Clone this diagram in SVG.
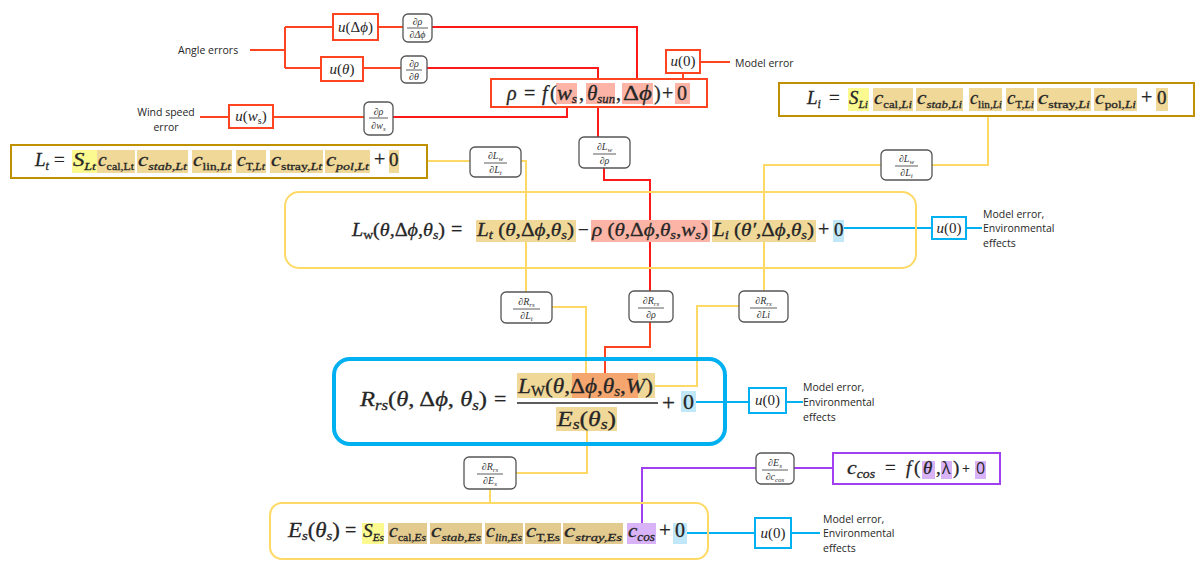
<svg xmlns="http://www.w3.org/2000/svg" width="1197" height="561" viewBox="0 0 1197 561">
<style>
.mi{font-family:"Liberation Serif","DejaVu Serif",serif;font-style:italic;fill:#262626;stroke:#262626;stroke-width:0.3}
.mn{font-family:"Liberation Serif","DejaVu Serif",serif;font-style:normal;fill:#262626;stroke:#262626;stroke-width:0.3}
.lbl{font-family:"Open Sans","Liberation Sans",sans-serif;font-size:10.5px;fill:#262626}
.pd{font-family:"Liberation Serif","DejaVu Serif",serif;font-style:italic;font-size:10px;fill:#333;text-anchor:middle}
.pdb{fill:#fff;stroke:#555;stroke-width:1.3}
.pdl{stroke:#333;stroke-width:0.8}
.ob{fill:#fff;stroke:#FF4422;stroke-width:2}
.bb{fill:#fff;stroke:#00B0F0;stroke-width:2}
.gb{fill:#fff;stroke:#BF9000;stroke-width:2}
.lo{fill:none;stroke:#FF4422;stroke-width:2}
.lr{fill:none;stroke:#FF1A1A;stroke-width:2}
.ly{fill:none;stroke:#FFD966;stroke-width:2}
.lb{fill:none;stroke:#00B0F0;stroke-width:2}
.lp{fill:none;stroke:#A040F0;stroke-width:2}
.hs{fill:#FBB4A5}
.ht{fill:#F0D898}
.hd{fill:#E3CB90}
.hy{fill:#FAFA90}
.hb{fill:#C0E8F8}
.hp{fill:#D9B3F8}
.ho{fill:#F5A66E}
.u{font-family:"Liberation Serif","DejaVu Serif",serif;font-size:15px;fill:#262626;text-anchor:middle}
</style>

<g id="connectors">
  <path class="lo" d="M250,50 H285 M285,27 V68 M285,27 H333 M285,68 H321"/>
  <path class="lo" d="M378,27 H403 M363,68 H401"/>
  <path class="lr" d="M432,27 H637 V80 M427,68 H598 V79"/>
  <path class="lo" d="M200,117 H229 M273,117 H364"/>
  <path class="lr" d="M393,117 H567 V104"/>
  <path class="lo" d="M700,62 H730 M683,73 V83"/>
  <path class="lr" d="M598,107 V137 M604,168 V180 H650 V291"/>
  <path class="lo" d="M650,322 V347 H605 V373"/>
  <path class="ly" d="M427,161 H470 M521,161 H526 V292 M552,307 H586 V373"/>
  <path class="ly" d="M988,116 V165 H932 M881,165 H764 V291 M739,306 H697 V386 H655"/>
  <path class="ly" d="M587,431 V473 H516 M490,489 V503"/>
  <path class="lb" d="M844,228 H932 M966,228 H982"/>
  <path class="lb" d="M696,402 H749 M786,402 H803"/>
  <path class="lb" d="M687,533 H755 M791,533 H820"/>
  <path class="lp" d="M642,523 V468 H756 M794,468 H833"/>
</g>

<g id="angle-errors"><text class="lbl" x="178" y="54">Angle errors</text></g>
<g id="wind-speed-error"><text class="lbl" x="166" y="116" text-anchor="middle">Wind speed</text><text class="lbl" x="166" y="131" text-anchor="middle">error</text></g>

<g id="u-dphi"><rect class="ob" x="333" y="14" width="45" height="26"/><text class="u" x="355.5" y="32"><tspan font-style="italic">u</tspan>(Δ<tspan font-style="italic">ϕ</tspan>)</text></g>
<g id="u-theta"><rect class="ob" x="321" y="57" width="42" height="24"/><text class="u" x="342" y="74"><tspan font-style="italic">u</tspan>(<tspan font-style="italic">θ</tspan>)</text></g>
<g id="u-ws"><rect class="ob" x="229" y="105" width="44" height="23"/><text class="u" x="251" y="121"><tspan font-style="italic">u</tspan>(<tspan font-style="italic">w</tspan><tspan font-size="10" dy="3">s</tspan><tspan dy="-3">)</tspan></text></g>
<g id="u0-rho"><rect class="ob" x="666" y="50" width="34" height="23"/><text class="u" x="683" y="66"><tspan font-style="italic">u</tspan>(0)</text></g>
<g id="model-error-rho"><text class="lbl" x="735" y="67">Model error</text></g>

<g id="d-rho-dphi"><rect class="pdb" x="403" y="14" width="29" height="28" rx="5"/><text class="pd" x="417.5" y="25">∂ρ</text><line class="pdl" x1="407" y1="28" x2="428" y2="28"/><text class="pd" x="417.5" y="38">∂Δϕ</text></g>
<g id="d-rho-theta"><rect class="pdb" x="401" y="56" width="26" height="27" rx="5"/><text class="pd" x="414" y="67">∂ρ</text><line class="pdl" x1="406" y1="70" x2="422" y2="70"/><text class="pd" x="414" y="80">∂θ</text></g>
<g id="d-rho-ws"><rect class="pdb" x="364" y="102" width="29" height="33" rx="5"/><text class="pd" x="378.5" y="115">∂ρ</text><line class="pdl" x1="369" y1="118" x2="388" y2="118"/><text class="pd" x="378.5" y="129">∂w<tspan font-size="7" dy="2">s</tspan></text></g>

<g id="rho-eq">
  <rect class="ob" x="491" y="79" width="216" height="28" fill="none"/>
  <rect class="hs" x="556" y="83" width="21" height="21"/>
  <rect class="hs" x="586" y="83" width="29" height="21"/>
  <rect class="hs" x="622" y="83" width="31" height="21"/>
  <rect class="hs" x="675" y="83" width="15" height="21"/>
  <text class="mi" x="507" y="100" font-size="20">ρ</text>
  <text class="mn" x="524" y="100" font-size="20">=</text>
  <text class="mi" x="542" y="100" font-size="20">f</text>
  <text class="mn" x="550" y="100" font-size="20">(</text>
  <text class="mi" x="557" y="100" font-size="20" textLength="20" lengthAdjust="spacingAndGlyphs">w<tspan font-size="12" dy="3">s</tspan></text>
  <text class="mn" x="579" y="100" font-size="20">,</text>
  <text class="mi" x="587" y="100" font-size="20" textLength="28" lengthAdjust="spacingAndGlyphs">θ<tspan font-size="12" dy="3">sun</tspan></text>
  <text class="mn" x="616" y="100" font-size="20">,</text>
  <text class="mi" x="623" y="100" font-size="20" textLength="29" lengthAdjust="spacingAndGlyphs"><tspan class="mn">Δ</tspan>ϕ</text>
  <text class="mn" x="654" y="100" font-size="20">)</text>
  <text class="mn" x="662" y="100" font-size="20">+</text>
  <text class="mn" x="677" y="100" font-size="20">0</text>
</g>

<g id="lt-eq">
  <rect class="gb" x="11" y="145" width="416" height="33"/>
  <rect class="hy" x="72" y="150" width="25" height="23"/>
  <rect class="ht" x="97" y="150" width="38" height="23"/>
  <rect class="ht" x="137" y="150" width="51" height="23"/>
  <rect class="ht" x="192" y="150" width="40" height="23"/>
  <rect class="ht" x="236" y="150" width="30" height="23"/>
  <rect class="ht" x="270" y="150" width="53" height="23"/>
  <rect class="ht" x="325" y="150" width="45" height="23"/>
  <rect class="ht" x="389" y="150" width="10" height="23"/>
  <text class="mi" x="35" y="166" font-size="19">L<tspan font-size="12" dy="4">t</tspan></text>
  <text class="mn" x="54" y="166" font-size="19">=</text>
  <text class="mi" x="73" y="166" font-size="18" textLength="23" lengthAdjust="spacingAndGlyphs">S<tspan font-size="11" dy="4">Lt</tspan></text>
  <text class="mi" x="98" y="166" font-size="18" textLength="36" lengthAdjust="spacingAndGlyphs">c<tspan class="mn" font-size="11" dy="4">cal,Lt</tspan></text>
  <text class="mi" x="138" y="166" font-size="18" textLength="49" lengthAdjust="spacingAndGlyphs">c<tspan font-size="11" dy="4">stab,Lt</tspan></text>
  <text class="mi" x="193" y="166" font-size="18" textLength="38" lengthAdjust="spacingAndGlyphs">c<tspan class="mn" font-size="11" dy="4">lin,</tspan><tspan font-size="11">Lt</tspan></text>
  <text class="mi" x="237" y="166" font-size="18" textLength="28" lengthAdjust="spacingAndGlyphs">c<tspan class="mn" font-size="11" dy="4">T,</tspan><tspan font-size="11">Lt</tspan></text>
  <text class="mi" x="271" y="166" font-size="18" textLength="51" lengthAdjust="spacingAndGlyphs">c<tspan class="mn" font-size="11" dy="4">stray,</tspan><tspan font-size="11">Lt</tspan></text>
  <text class="mi" x="326" y="166" font-size="18" textLength="43" lengthAdjust="spacingAndGlyphs">c<tspan font-size="11" dy="4">pol,Lt</tspan></text>
  <text class="mn" x="374" y="166" font-size="20">+</text>
  <text class="mn" x="389" y="166" font-size="19">0</text>
</g>

<g id="li-eq">
  <rect class="gb" x="779" y="83" width="415" height="33"/>
  <rect class="hy" x="848" y="88" width="21" height="23"/>
  <rect class="ht" x="873" y="88" width="40" height="23"/>
  <rect class="ht" x="916" y="88" width="47" height="23"/>
  <rect class="ht" x="969" y="88" width="33" height="23"/>
  <rect class="ht" x="1006" y="88" width="28" height="23"/>
  <rect class="ht" x="1037" y="88" width="54" height="23"/>
  <rect class="ht" x="1094" y="88" width="43" height="23"/>
  <rect class="ht" x="1156" y="88" width="12" height="23"/>
  <text class="mi" x="807" y="104" font-size="19">L<tspan font-size="12" dy="4">i</tspan></text>
  <text class="mn" x="829" y="104" font-size="19">=</text>
  <text class="mi" x="849" y="104" font-size="18" textLength="19" lengthAdjust="spacingAndGlyphs">S<tspan font-size="11" dy="4">Li</tspan></text>
  <text class="mi" x="874" y="104" font-size="18" textLength="38" lengthAdjust="spacingAndGlyphs">c<tspan class="mn" font-size="11" dy="4">cal,</tspan><tspan font-size="11">Li</tspan></text>
  <text class="mi" x="917" y="104" font-size="18" textLength="45" lengthAdjust="spacingAndGlyphs">c<tspan font-size="11" dy="4">stab,Li</tspan></text>
  <text class="mi" x="970" y="104" font-size="18" textLength="32" lengthAdjust="spacingAndGlyphs">c<tspan class="mn" font-size="11" dy="4">lin,</tspan><tspan font-size="11">Li</tspan></text>
  <text class="mi" x="1007" y="104" font-size="18" textLength="27" lengthAdjust="spacingAndGlyphs">c<tspan class="mn" font-size="11" dy="4">T,</tspan><tspan font-size="11">Li</tspan></text>
  <text class="mi" x="1038" y="104" font-size="18" textLength="52" lengthAdjust="spacingAndGlyphs">c<tspan class="mn" font-size="11" dy="4">stray,</tspan><tspan font-size="11">Li</tspan></text>
  <text class="mi" x="1095" y="104" font-size="18" textLength="41" lengthAdjust="spacingAndGlyphs">c<tspan class="mn" font-size="11" dy="4">pol,</tspan><tspan font-size="11">Li</tspan></text>
  <text class="mn" x="1141" y="104" font-size="20">+</text>
  <text class="mn" x="1157" y="104" font-size="19">0</text>
</g>

<g id="d-lw-rho"><rect class="pdb" x="579" y="137" width="51" height="31" rx="5"/><text class="pd" x="604.5" y="150">∂L<tspan font-size="7" dy="2">w</tspan></text><line class="pdl" x1="593" y1="154" x2="616" y2="154"/><text class="pd" x="604.5" y="164">∂ρ</text></g>
<g id="d-lw-lt"><rect class="pdb" x="470" y="147" width="51" height="30" rx="5"/><text class="pd" x="495.5" y="159">∂L<tspan font-size="7" dy="2">w</tspan></text><line class="pdl" x1="484" y1="163" x2="507" y2="163"/><text class="pd" x="495.5" y="173">∂L<tspan font-size="7" dy="2">t</tspan></text></g>
<g id="d-lw-li"><rect class="pdb" x="881" y="150" width="51" height="30" rx="5"/><text class="pd" x="906.5" y="162">∂L<tspan font-size="7" dy="2">w</tspan></text><line class="pdl" x1="895" y1="166" x2="918" y2="166"/><text class="pd" x="906.5" y="176">∂L<tspan font-size="7" dy="2">i</tspan></text></g>

<g id="lw-eq">
  <rect x="285" y="192" width="631" height="76" rx="14" fill="none" stroke="#FFD966" stroke-width="2"/>
  <rect class="ht" x="476" y="220" width="100" height="22"/>
  <rect class="hs" x="591" y="220" width="119" height="22"/>
  <rect class="ht" x="712" y="220" width="104" height="22"/>
  <rect class="hb" x="833" y="220" width="11" height="22"/>
  <text class="mi" x="352" y="236" font-size="19" textLength="93" lengthAdjust="spacingAndGlyphs">L<tspan class="mn" font-size="13" dy="3">w</tspan><tspan class="mn" dy="-3">(</tspan>θ<tspan class="mn">,Δ</tspan>ϕ<tspan class="mn">,</tspan>θ<tspan font-size="13" dy="3">s</tspan><tspan class="mn" dy="-3">)</tspan></text>
  <text class="mn" x="451" y="236" font-size="20">=</text>
  <text class="mi" x="477" y="236" font-size="19" textLength="97" lengthAdjust="spacingAndGlyphs">L<tspan font-size="13" dy="3">t</tspan><tspan class="mn" dy="-3"> (</tspan>θ<tspan class="mn">,Δ</tspan>ϕ<tspan class="mn">,</tspan>θ<tspan font-size="13" dy="3">s</tspan><tspan class="mn" dy="-3">)</tspan></text>
  <text class="mn" x="578" y="236" font-size="19">−</text>
  <text class="mi" x="592" y="236" font-size="19" textLength="116" lengthAdjust="spacingAndGlyphs">ρ<tspan class="mn"> (</tspan>θ<tspan class="mn">,Δ</tspan>ϕ<tspan class="mn">,</tspan>θ<tspan font-size="13" dy="3">s</tspan><tspan class="mn" dy="-3">,</tspan>w<tspan font-size="13" dy="3">s</tspan><tspan class="mn" dy="-3">)</tspan></text>
  <text class="mi" x="713" y="236" font-size="19" textLength="101" lengthAdjust="spacingAndGlyphs">L<tspan font-size="13" dy="3">i</tspan><tspan class="mn" dy="-3"> (</tspan>θ′<tspan class="mn">,Δ</tspan>ϕ<tspan class="mn">,</tspan>θ<tspan font-size="13" dy="3">s</tspan><tspan class="mn" dy="-3">)</tspan></text>
  <text class="mn" x="818" y="236" font-size="20">+</text>
  <text class="mn" x="834" y="236" font-size="19">0</text>
</g>
<g id="u0-lw"><rect class="bb" x="932" y="217" width="34" height="22"/><text class="u" x="949" y="233"><tspan font-style="italic">u</tspan>(0)</text></g>
<g id="env-lw"><text class="lbl" x="983" y="218">Model error,</text><text class="lbl" x="983" y="232">Environmental</text><text class="lbl" x="983" y="247">effects</text></g>

<g id="d-rrs-lt"><rect class="pdb" x="501" y="292" width="51" height="31" rx="5"/><text class="pd" x="526.5" y="305">∂R<tspan font-size="7" dy="2">rs</tspan></text><line class="pdl" x1="513" y1="309" x2="540" y2="309"/><text class="pd" x="526.5" y="319">∂L<tspan font-size="7" dy="2">t</tspan></text></g>
<g id="d-rrs-rho"><rect class="pdb" x="629" y="291" width="44" height="31" rx="5"/><text class="pd" x="651" y="304">∂R<tspan font-size="7" dy="2">rs</tspan></text><line class="pdl" x1="638" y1="308" x2="664" y2="308"/><text class="pd" x="651" y="318">∂ρ</text></g>
<g id="d-rrs-li"><rect class="pdb" x="739" y="291" width="49" height="31" rx="5"/><text class="pd" x="763.5" y="304">∂R<tspan font-size="7" dy="2">rs</tspan></text><line class="pdl" x1="750" y1="308" x2="777" y2="308"/><text class="pd" x="763.5" y="318">∂Li</text></g>

<g id="rrs-eq">
  <rect x="334" y="359" width="391" height="85" rx="16" fill="none" stroke="#00B0F0" stroke-width="4"/>
  <rect class="ht" x="517" y="373" width="138" height="25"/>
  <rect class="ho" x="572" y="373" width="66" height="25"/>
  <rect class="ht" x="556" y="407" width="61" height="24"/>
  <rect class="hb" x="681" y="391" width="15" height="21"/>
  <text class="mi" x="360" y="406" font-size="22" textLength="127" lengthAdjust="spacingAndGlyphs">R<tspan font-size="15" dy="4">rs</tspan><tspan class="mn" dy="-4">(</tspan>θ<tspan class="mn">, Δ</tspan>ϕ<tspan class="mn">, </tspan>θ<tspan font-size="15" dy="4">s</tspan><tspan class="mn" dy="-4">)</tspan></text>
  <text class="mn" x="494" y="406" font-size="22">=</text>
  <text class="mi" x="518" y="393" font-size="22" textLength="135" lengthAdjust="spacingAndGlyphs">L<tspan class="mn" font-size="14" dy="3">W</tspan><tspan class="mn" dy="-3">(</tspan>θ<tspan class="mn">,Δ</tspan>ϕ<tspan class="mn">,</tspan>θ<tspan font-size="14" dy="3">s</tspan><tspan class="mn" dy="-3">,</tspan>W<tspan class="mn">)</tspan></text>
  <line x1="517" y1="403" x2="658" y2="403" stroke="#262626" stroke-width="1.5"/>
  <text class="mi" x="557" y="426" font-size="22" textLength="59" lengthAdjust="spacingAndGlyphs">E<tspan font-size="15" dy="3">s</tspan><tspan class="mn" dy="-3">(</tspan>θ<tspan font-size="15" dy="3">s</tspan><tspan class="mn" dy="-3">)</tspan></text>
  <text class="mn" x="662" y="410" font-size="23">+</text>
  <text class="mn" x="683" y="409" font-size="22">0</text>
</g>
<g id="u0-rrs"><rect class="bb" x="749" y="388" width="37" height="25"/><text class="u" x="767.5" y="405"><tspan font-style="italic">u</tspan>(0)</text></g>
<g id="env-rrs"><text class="lbl" x="803" y="391">Model error,</text><text class="lbl" x="803" y="406">Environmental</text><text class="lbl" x="803" y="421">effects</text></g>

<g id="d-rrs-es"><rect class="pdb" x="464" y="457" width="52" height="32" rx="5"/><text class="pd" x="490" y="470">∂R<tspan font-size="7" dy="2">rs</tspan></text><line class="pdl" x1="477" y1="474" x2="503" y2="474"/><text class="pd" x="490" y="484">∂E<tspan font-size="7" dy="2">s</tspan></text></g>
<g id="d-es-ccos"><rect class="pdb" x="756" y="453" width="38" height="31" rx="5"/><text class="pd" x="775" y="466">∂E<tspan font-size="7" dy="2">s</tspan></text><line class="pdl" x1="762" y1="470" x2="788" y2="470"/><text class="pd" x="775" y="480">∂c<tspan font-size="7" dy="2">cos</tspan></text></g>

<g id="ccos-eq">
  <rect x="833" y="453" width="167" height="31" fill="#fff" stroke="#A040F0" stroke-width="2"/>
  <rect class="hp" x="922" y="461" width="13" height="18"/>
  <rect class="hp" x="941" y="461" width="11" height="18"/>
  <rect class="hp" x="975" y="461" width="11" height="18"/>
  <text class="mi" x="847" y="474" font-size="19" textLength="28" lengthAdjust="spacingAndGlyphs">c<tspan font-size="12" dy="4">cos</tspan></text>
  <text class="mn" x="885" y="474" font-size="19">=</text>
  <text class="mi" x="906" y="474" font-size="19">f</text>
  <text class="mn" x="914" y="474" font-size="19">(</text>
  <text class="mi" x="923" y="474" font-size="19">θ</text>
  <text class="mn" x="936" y="474" font-size="19">,</text>
  <text x="942" y="474" font-size="16" font-family="Open Sans, sans-serif" fill="#262626">λ</text>
  <text class="mn" x="953" y="474" font-size="19">)</text>
  <text x="962" y="474" font-size="14" font-family="Open Sans, sans-serif" fill="#262626">+</text>
  <text x="976" y="474" font-size="16" font-family="Open Sans, sans-serif" fill="#262626">0</text>
</g>

<g id="es-eq">
  <rect x="270" y="503" width="438" height="56" rx="12" fill="none" stroke="#FFD966" stroke-width="2"/>
  <rect class="hy" x="362" y="523" width="22" height="21"/>
  <rect class="hd" x="388" y="523" width="39" height="21"/>
  <rect class="hd" x="430" y="523" width="52" height="21"/>
  <rect class="hd" x="485" y="523" width="38" height="21"/>
  <rect class="hd" x="525" y="523" width="36" height="21"/>
  <rect class="hd" x="563" y="523" width="60" height="21"/>
  <rect class="hp" x="627" y="523" width="29" height="21"/>
  <rect class="hb" x="673" y="523" width="14" height="21"/>
  <text class="mi" x="288" y="537" font-size="20" textLength="52" lengthAdjust="spacingAndGlyphs">E<tspan font-size="13" dy="3">s</tspan><tspan class="mn" dy="-3">(</tspan>θ<tspan font-size="13" dy="3">s</tspan><tspan class="mn" dy="-3">)</tspan></text>
  <text class="mn" x="345" y="537" font-size="20">=</text>
  <text class="mi" x="363" y="537" font-size="19" textLength="21" lengthAdjust="spacingAndGlyphs">S<tspan font-size="11" dy="4">Es</tspan></text>
  <text class="mi" x="389" y="537" font-size="19" textLength="37" lengthAdjust="spacingAndGlyphs">c<tspan class="mn" font-size="11" dy="4">cal,</tspan><tspan font-size="11">Es</tspan></text>
  <text class="mi" x="431" y="537" font-size="19" textLength="50" lengthAdjust="spacingAndGlyphs">c<tspan font-size="11" dy="4">stab,Es</tspan></text>
  <text class="mi" x="486" y="537" font-size="19" textLength="36" lengthAdjust="spacingAndGlyphs">c<tspan font-size="11" dy="4">lin,Es</tspan></text>
  <text class="mi" x="526" y="537" font-size="19" textLength="34" lengthAdjust="spacingAndGlyphs">c<tspan class="mn" font-size="11" dy="4">T,Es</tspan></text>
  <text class="mi" x="564" y="537" font-size="19" textLength="58" lengthAdjust="spacingAndGlyphs">c<tspan font-size="11" dy="4">stray,Es</tspan></text>
  <text class="mi" x="628" y="537" font-size="19" textLength="27" lengthAdjust="spacingAndGlyphs">c<tspan font-size="12" dy="4">cos</tspan></text>
  <text class="mn" x="659" y="537" font-size="21">+</text>
  <text class="mn" x="675" y="537" font-size="20">0</text>
</g>
<g id="u0-es"><rect class="bb" x="755" y="518" width="36" height="30"/><text class="u" x="773" y="538"><tspan font-style="italic">u</tspan>(0)</text></g>
<g id="env-es"><text class="lbl" x="823" y="523">Model error,</text><text class="lbl" x="823" y="537">Environmental</text><text class="lbl" x="823" y="552">effects</text></g>
</svg>
